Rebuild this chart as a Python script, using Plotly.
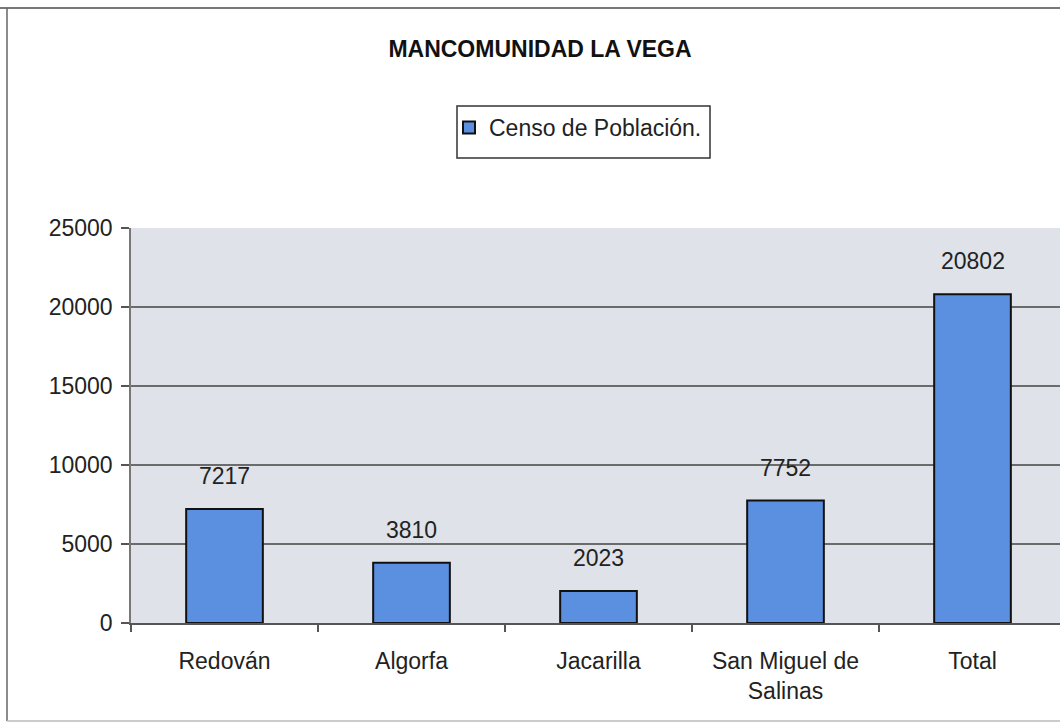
import plotly.graph_objects as go

categories = ["Redován", "Algorfa", "Jacarilla", "San Miguel de<br>Salinas", "Total"]
values = [7217, 3810, 2023, 7752, 20802]
series_name = "Censo de Población."
title_text = "MANCOMUNIDAD LA VEGA"
y_ticks = [0, 5000, 10000, 15000, 20000, 25000]
y_tick_text = ["0", "5000", "10000", "15000", "20000", "25000"]

W, H = 1060, 725
L, R, T, B = 131, 0, 228, 102
pw, ph = W - L - R, H - T - B

def px_x(x):
    return (x - L) / pw

def px_y(y):
    return (H - B - y) / ph

font = "Liberation Sans, Arial, sans-serif"

fig = go.Figure()
fig.add_trace(go.Bar(
    x=categories, y=values, name=series_name,
    width=0.41,
    marker=dict(color="#5b8fe0", line=dict(color="#111111", width=2)),
    showlegend=True,
))

for c, v in zip(categories, values):
    fig.add_annotation(x=c, y=v, text=str(v), showarrow=False, yshift=33,
                       font=dict(family=font, size=23, color="#222222"))

span = pw / 187.0
fig.update_layout(
    width=W, height=H,
    margin=dict(l=L, r=R, t=T, b=B, autoexpand=False),
    paper_bgcolor="white",
    plot_bgcolor="#dfe2e8",
    font=dict(family=font, size=23, color="#222222"),
    title=dict(text="<b>" + title_text + "</b>", x=540 / W, xref="container",
               y=1 - 49 / H, yref="container", xanchor="center", yanchor="middle",
               font=dict(family=font, size=23, color="#111111")),
    legend=dict(x=px_x(449), y=px_y(106), xanchor="left", yanchor="top",
                borderwidth=0, bgcolor="rgba(0,0,0,0)",
                font=dict(family=font, size=23, color="#222222"),
                itemwidth=30),
    xaxis=dict(range=[-0.5, -0.5 + span], showgrid=False, showline=True,
               linecolor="#555555", linewidth=2, ticks="outside", tickson="boundaries",
               ticklen=7, tickcolor="#555555", tickwidth=1.5,
               ticklabelstandoff=16,
               tickfont=dict(family=font, size=23, color="#222222")),
    yaxis=dict(range=[0, 25000], tickvals=y_ticks, ticktext=y_tick_text,
               showgrid=True, gridcolor="#6b6b6b",
               gridwidth=2, showline=True, linecolor="#777777", linewidth=1.5,
               ticks="outside", ticklen=8, tickcolor="#555555", tickwidth=1.5,
               zeroline=False, ticklabelstandoff=4,
               tickfont=dict(family=font, size=23, color="#222222")),
    shapes=[
        dict(type="rect", xref="paper", yref="paper", x0=px_x(457), x1=px_x(710),
             y0=px_y(106), y1=px_y(158), fillcolor="white",
             line=dict(color="#333333", width=1.5), layer="below"),
        dict(type="line", xref="paper", yref="paper", x0=px_x(0), x1=px_x(W + 5),
             y0=px_y(8), y1=px_y(8), line=dict(color="#777777", width=2)),
        dict(type="line", xref="paper", yref="paper", x0=px_x(7), x1=px_x(7),
             y0=px_y(8), y1=px_y(721), line=dict(color="#666666", width=1.5)),
        dict(type="line", xref="paper", yref="paper", x0=px_x(7), x1=px_x(W + 5),
             y0=px_y(721), y1=px_y(721), line=dict(color="#bbbbbb", width=1.5)),
    ],
)

fig.write_html("out.html", config={"displayModeBar": False},
               post_script="document.body.style.margin='0';document.body.style.overflow='hidden';")
